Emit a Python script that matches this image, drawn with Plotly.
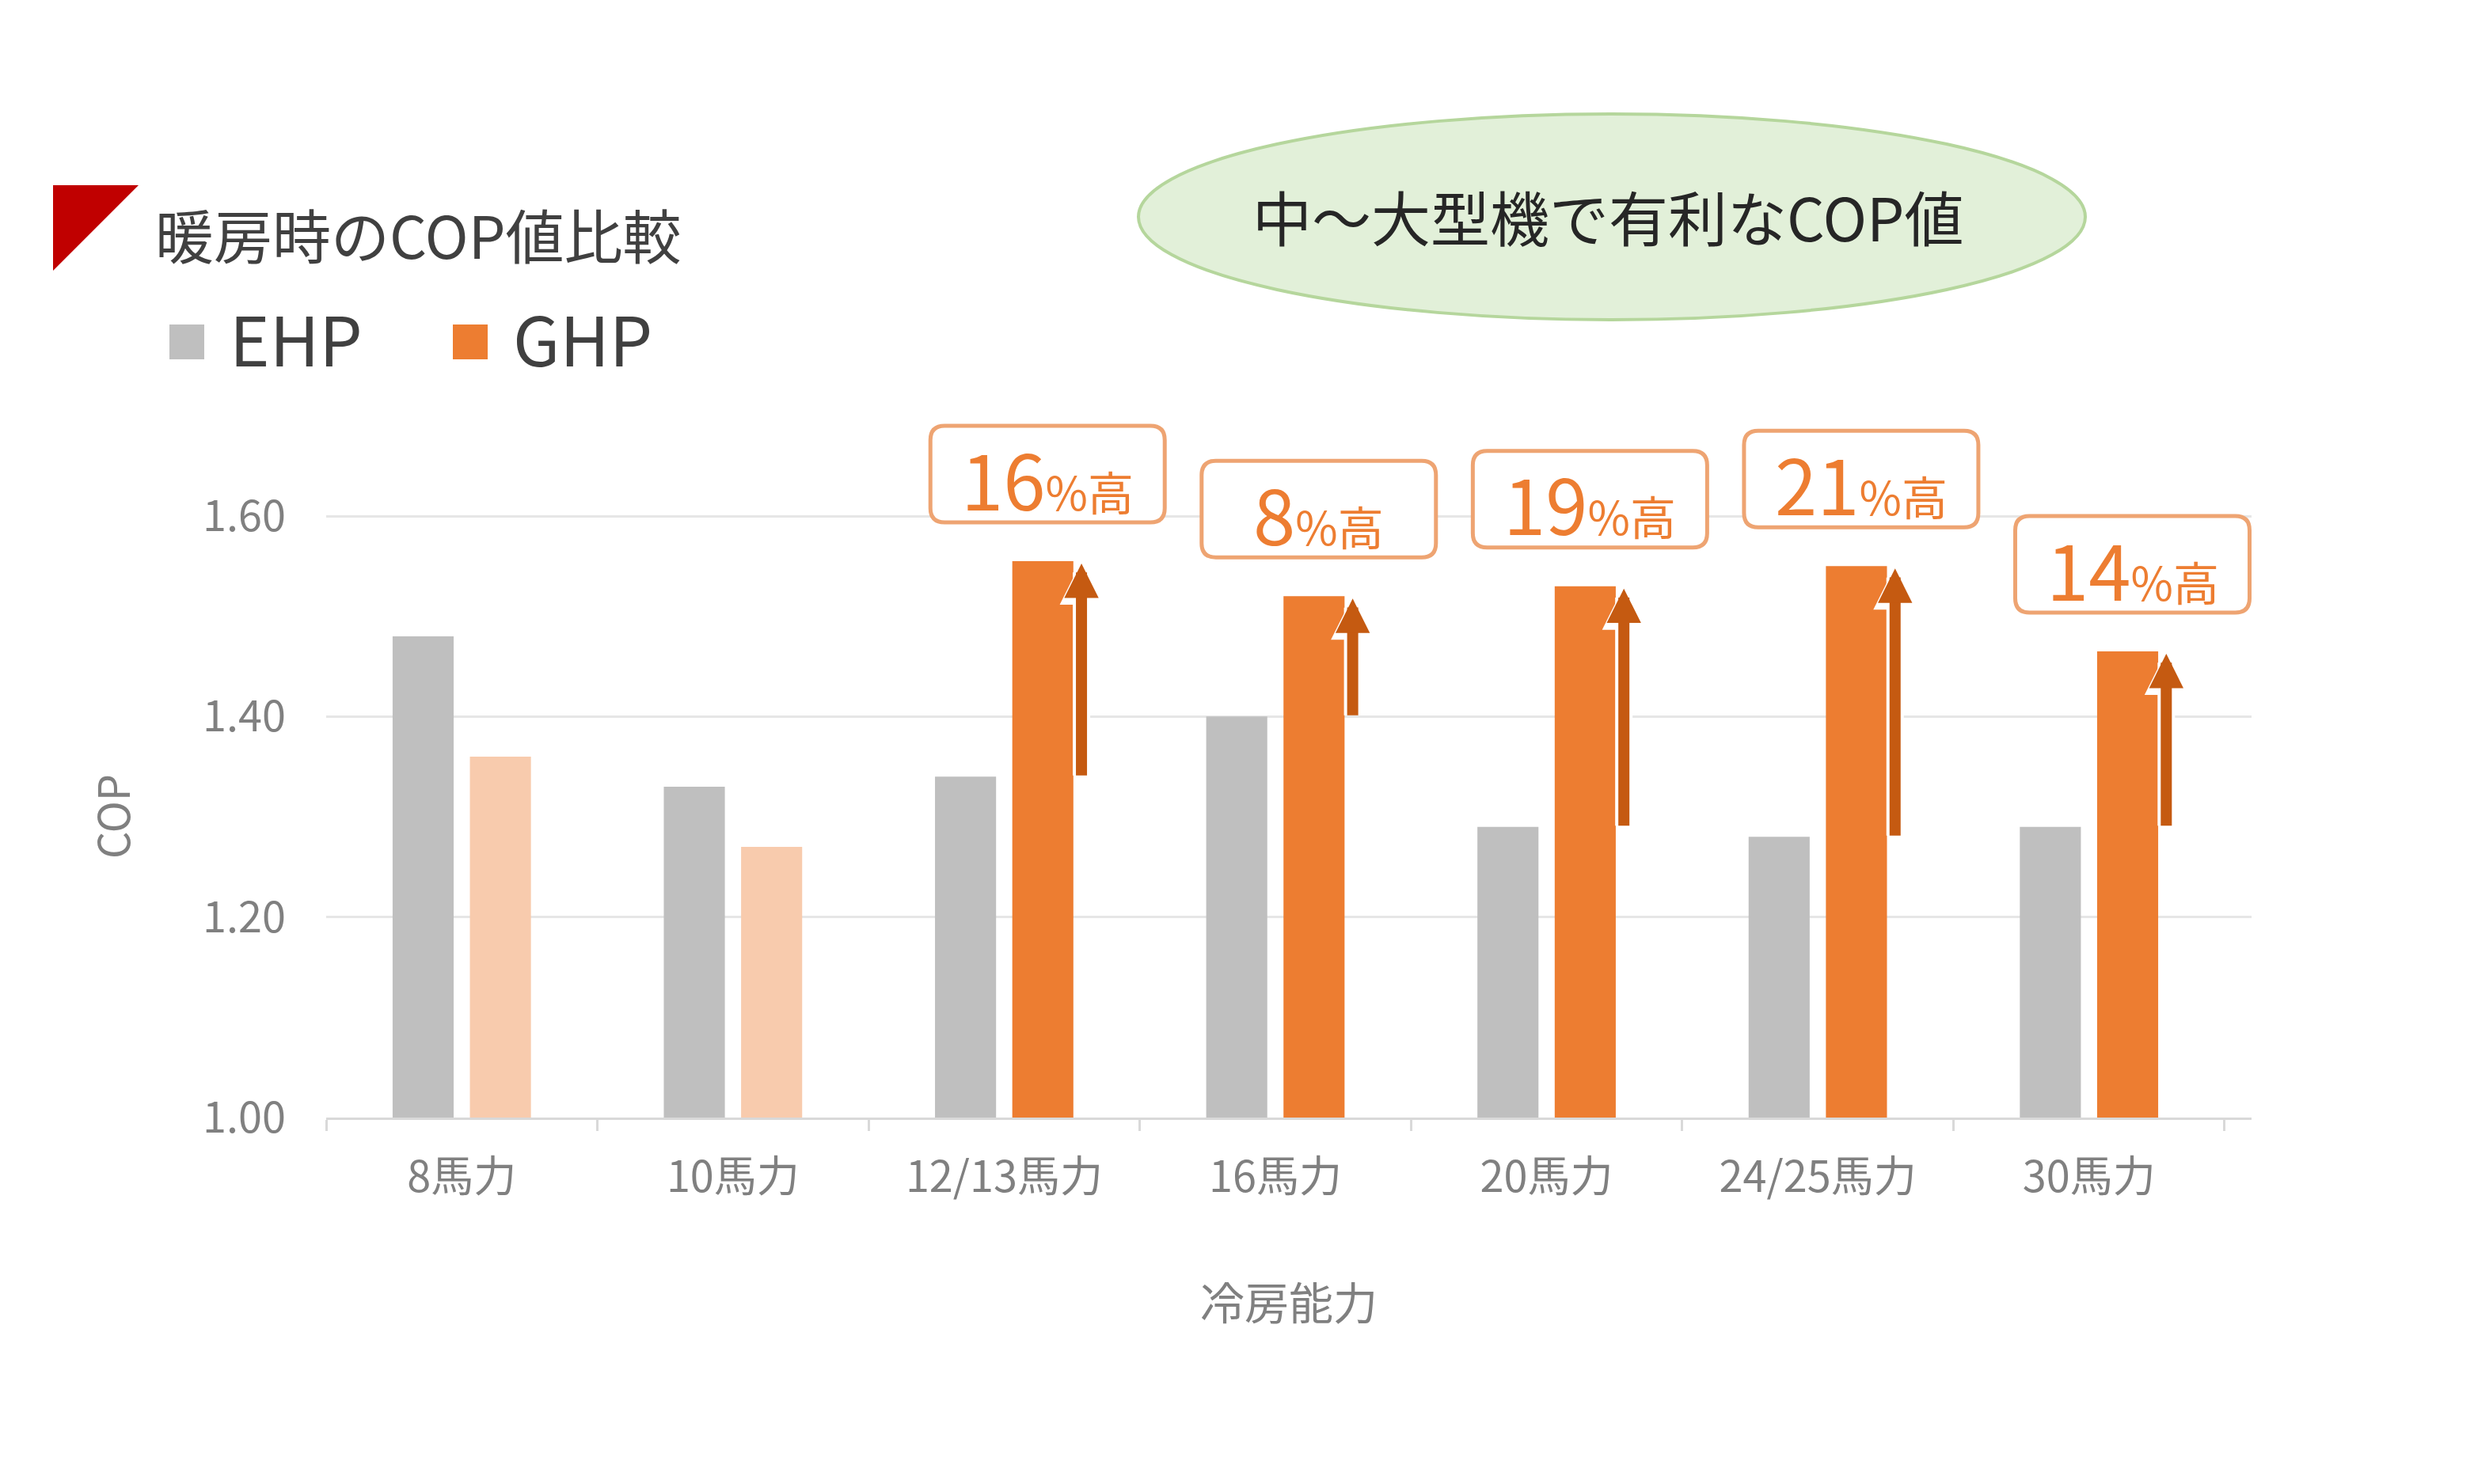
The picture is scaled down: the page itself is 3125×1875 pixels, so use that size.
import plotly.graph_objects as go

# chart data
categories = ["8馬力", "10馬力", "12/13馬力", "16馬力", "20馬力", "24/25馬力", "30馬力"]
ehp_cop = [1.48, 1.33, 1.34, 1.40, 1.29, 1.28, 1.29]
ghp_cop = [1.36, 1.27, 1.555, 1.52, 1.53, 1.55, 1.465]
ghp_gain_pct = [None, None, 16, 8, 19, 21, 14]
y_ticks = [1.00, 1.20, 1.40, 1.60]
series_names = ["EHP", "GHP"]

title_text = "暖房時のCOP値比較"
bubble_text = "中～大型機で有利なCOP値"
x_title = "冷房能力"
y_title = "COP"

FONT = "Noto Sans CJK JP"
GRAY = "#bfbfbf"
ORANGE = "#ed7d31"
PEACH = "#f8cbad"
ARROW = "#c55a11"

# page / plot geometry (pixels)
W, H = 3125, 1875
ML, MR, MT, MB = 404, 289, 492, 471
PW = W - ML - MR
PH = H - MT - MB


def px(x):
    return (x - ML) / PW


def py(y):
    return (H - MB - y) / PH


fig = go.Figure()

fig.add_trace(go.Bar(x=categories, y=ehp_cop, name=series_names[0],
                     marker_color=GRAY, marker_line_width=0))
fig.add_trace(go.Bar(x=categories, y=ghp_cop, name=series_names[1],
                     marker_color=[PEACH if p is None else ORANGE for p in ghp_gain_pct],
                     marker_line_width=0))

shapes = []
annotations = []

# arrows and "xx%高" boxes
for i, (e, g, p) in enumerate(zip(ehp_cop, ghp_cop, ghp_gain_pct)):
    if p is None:
        continue
    ax_pos = i + 0.285
    annotations.append(dict(x=ax_pos, y=g, ax=ax_pos, ay=e, xref="x", yref="y",
                            axref="x", ayref="y", showarrow=True, text="",
                            arrowhead=2, arrowsize=0.5, arrowwidth=22,
                            arrowcolor="white", standoff=0))
    annotations.append(dict(x=ax_pos, y=g, ax=ax_pos, ay=e, xref="x", yref="y",
                            axref="x", ayref="y", showarrow=True, text="",
                            arrowhead=2, arrowsize=0.62, arrowwidth=14,
                            arrowcolor=ARROW, standoff=3))

    bx, bw, bh, r, cy = i + 0.16, 296, 122, 18, 110
    x0, x1, y0, y1 = -bw / 2, bw / 2, cy - bh / 2, cy + bh / 2
    path = (f"M {x0 + r},{y0} L {x1 - r},{y0} Q {x1},{y0} {x1},{y0 + r} "
            f"L {x1},{y1 - r} Q {x1},{y1} {x1 - r},{y1} L {x0 + r},{y1} "
            f"Q {x0},{y1} {x0},{y1 - r} L {x0},{y0 + r} Q {x0},{y0} {x0 + r},{y0} Z")
    shapes.append(dict(type="path", xref="x", yref="y", xsizemode="pixel",
                       ysizemode="pixel", xanchor=bx, yanchor=g, path=path,
                       fillcolor="white", line=dict(color="#eea472", width=5)))
    annotations.append(dict(x=bx, y=g, xref="x", yref="y", yshift=cy - 4,
                            showarrow=False, xanchor="center", yanchor="middle",
                            text=f"{p}<span style='font-size:58px'>%高</span>",
                            font=dict(family=FONT, size=96, color=ORANGE)))

# y-axis title
annotations.append(dict(x=px(132), y=(y_ticks[0] + y_ticks[-1]) / 2, xref="paper",
                        yref="y", xanchor="center", yanchor="middle",
                        text=y_title, textangle=-90, showarrow=False,
                        font=dict(family=FONT, size=54, color="#808080")))
# x-axis title
annotations.append(dict(x=0.5, y=py(1634), xref="paper", yref="paper",
                        xanchor="center", yanchor="middle",
                        text=x_title, showarrow=False,
                        font=dict(family=FONT, size=56, color="#808080")))

# header: red triangle + title
shapes.append(dict(type="path", xref="paper", yref="paper",
                   path=f"M {px(59)},{py(226)} L {px(167)},{py(226)} L {px(59)},{py(334)} Z",
                   fillcolor="#c00000", line_width=0))
annotations.append(dict(x=px(186), y=py(286), xref="paper", yref="paper",
                        xanchor="left", yanchor="middle", text=title_text,
                        showarrow=False,
                        font=dict(family=FONT, size=74, color="#404040")))

# manual legend
for sx, tx, col, name in [(206, 280, GRAY, series_names[0]),
                          (564, 638, ORANGE, series_names[1])]:
    shapes.append(dict(type="rect", xref="paper", yref="paper",
                       x0=px(sx), x1=px(sx + 44), y0=py(402), y1=py(446),
                       fillcolor=col, line_width=0))
    annotations.append(dict(x=px(tx), y=py(418), xref="paper", yref="paper",
                            xanchor="left", yanchor="middle", text=name,
                            showarrow=False,
                            font=dict(family=FONT, size=86, color="#404040")))

# green bubble
shapes.append(dict(type="circle", xref="paper", yref="paper",
                   x0=px(1430), x1=px(2626), y0=py(396), y1=py(136),
                   fillcolor="#e2f0d9", line=dict(color="#b5d69c", width=4),
                   layer="below"))
annotations.append(dict(x=px(2024), y=py(264), xref="paper", yref="paper",
                        xanchor="center", yanchor="middle",
                        text=bubble_text, showarrow=False,
                        font=dict(family=FONT, size=75, color="#262626")))

fig.update_layout(
    width=W, height=H,
    margin=dict(l=ML, r=MR, t=MT, b=MB),
    paper_bgcolor="white", plot_bgcolor="white",
    barmode="group", bargap=0.43, bargroupgap=0.21,
    showlegend=False,
    shapes=shapes, annotations=annotations,
    font=dict(family=FONT),
)
fig.update_xaxes(showline=True, linecolor="#d9d9d9", linewidth=3,
                 ticks="outside", tickson="boundaries", ticklen=14,
                 tickwidth=3, tickcolor="#d9d9d9", ticklabelstandoff=26,
                 tickfont=dict(family=FONT, size=54, color="#808080"),
                 showgrid=False)
fig.update_yaxes(range=[1.0, 1.72], tickvals=y_ticks, tickformat=".2f",
                 showgrid=True, gridcolor="#e6e6e6", gridwidth=3,
                 zeroline=False, showline=False, ticks="",
                 ticklabelstandoff=50,
                 tickfont=dict(family=FONT, size=54, color="#808080"))

fig.write_html("out.html")
